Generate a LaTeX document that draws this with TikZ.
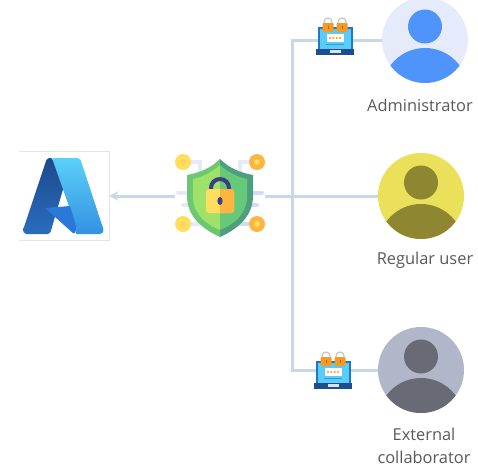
\documentclass[tikz,border=0pt]{standalone}
\usepackage{fontspec}
\setmainfont{Open Sans}
\usetikzlibrary{positioning,arrows,calc}

\definecolor{wire}{HTML}{C5D8EC}
\definecolor{trace}{HTML}{E4EAFA}
\definecolor{tracedark}{HTML}{D3DCF6}
\definecolor{captiontext}{HTML}{595959}
\definecolor{adminback}{HTML}{E6EBFB}
\definecolor{adminfront}{HTML}{4F94FA}
\definecolor{regularback}{HTML}{EBE05A}
\definecolor{regularfront}{HTML}{8E8630}
\definecolor{externalback}{HTML}{B1B6C8}
\definecolor{externalfront}{HTML}{686A75}
\definecolor{logodarktop}{HTML}{1D4A8C}
\definecolor{logodarkbottom}{HTML}{2A6DBE}
\definecolor{logolighttop}{HTML}{5BD0F8}
\definecolor{logolightbottom}{HTML}{3391E2}
\definecolor{logomiddle}{HTML}{2A78D8}
\definecolor{shieldleft}{HTML}{6CC870}
\definecolor{shieldright}{HTML}{4F9E7E}
\definecolor{innerleft}{HTML}{9FE26A}
\definecolor{innerright}{HTML}{66C97A}
\definecolor{lockleft}{HTML}{FFDD5E}
\definecolor{lockright}{HTML}{FDB440}
\definecolor{shackle}{HTML}{3A3F85}
\definecolor{screenframe}{HTML}{1F77C5}
\definecolor{screenfill}{HTML}{59CCFB}
\definecolor{laptopbase}{HTML}{1F4E8C}
\definecolor{padlock}{HTML}{F59A23}

\begin{document}
\begin{tikzpicture}[x=1pt, y=-1pt, >=stealth,
    box/.style={inner sep=0pt, minimum width=#1},
    avatar/.style n args={2}{circle, inner sep=0pt, minimum size=86pt, fill=#1,
      path picture={
        \fill[#2] ([yshift=13.5pt]path picture bounding box.center) circle (17pt);
        \fill[#2] ([yshift=-51pt]path picture bounding box.center) circle (43pt);
      }},
    caption/.style={text=captiontext, font=\fontsize{16.4}{23}\selectfont, align=center, inner sep=0pt},
    link/.style={draw=wire, line width=3pt}]

  \useasboundingbox (0,0) rectangle (478,472);

  \node[box=90pt, minimum height=89pt] (azure) at (64,196) {};
  \node[box=89pt, minimum height=80pt] (shield) at (220,196) {};
  \node[box=38pt, minimum height=26pt] (lockA) at (335,40) {};
  \node[box=38pt, minimum height=26pt] (lockB) at (333,370) {};
  \coordinate (hub) at (292,196);

  \node[avatar={adminback}{adminfront}] (admin) at (425,40) {};
  \node[avatar={regularback}{regularfront}] (regular) at (421,196) {};
  \node[avatar={externalback}{externalfront}] (external) at (421,370) {};

  \node[caption, below=16pt of admin, xshift=-5pt] (adminlabel) {Administrator};
  \node[caption, below=13pt of regular, xshift=4pt] (regularlabel) {Regular user};
  \node[caption, below=15pt of external, xshift=3pt] (externallabel) {External\\collaborator};

  \draw[link] (shield.east) -- (regular.west);
  \draw[link] (hub) |- (lockA.center);
  \draw[link] (hub) |- (lockB.center);
  \draw[link] (lockA.center) -- (admin.west);
  \draw[link] (lockB.center) -- (external.west);
  \draw[link, ->] (shield.west) -- (azure.east);

  % frame of the logo, open on the left
  \draw[black!10, line width=.8pt] (azure.north west) -- (azure.north east) -- (azure.south east) -- (azure.south west);

  % logo
  \shade[top color=logodarktop, bottom color=logodarkbottom, rounded corners=2pt]
    (47,158) -- (53,158) -- (64,186) -- (50,234) -- (24,234) -- (23,230) -- cycle;
  \shade[top color=logolighttop, bottom color=logolightbottom, rounded corners=2pt]
    (52,158) -- (80,158) -- (104,231) -- (102,234) -- (75,234) -- (77,229) -- cycle;
  \fill[logomiddle, rounded corners=1pt] (45,208) -- (70,206) -- (77,229) -- (74,234) -- cycle;

  % shield
  \begin{scope}[shift={(shield.center)}]
    \draw[trace, line width=4pt, line cap=round] (-37,-34) -- (-20,-34) -- (-20,-24);
    \draw[trace, line width=4pt, line cap=round] (37,-34) -- (20,-34) -- (20,-24);
    \draw[trace, line width=4pt, line cap=round] (-37,28) -- (-15,28);
    \draw[tracedark, line width=4pt, line cap=round] (37,28) -- (15,28);
    \draw[trace, line width=4pt, line cap=round] (-42,-3) -- (-28,-3) (-37,9) -- (-24,9);
    \draw[tracedark, line width=4pt, line cap=round] (28,-3) -- (42,-3) (28,9) -- (37,9);
    \foreach \sx/\outer/\inner in {1/shieldleft/innerleft,-1/shieldright/innerright} {
      \begin{scope}[xscale=\sx]
        \fill[\outer] (0,-37) .. controls (-10,-27) and (-22,-23) .. (-33,-21) -- (-33,0)
          .. controls (-33,20) and (-18,33) .. (0,41) -- cycle;
        \fill[\inner] (0,-31) .. controls (-9,-23) and (-18,-19) .. (-27,-17) -- (-27,1)
          .. controls (-27,17) and (-15,28) .. (0,34) -- cycle;
      \end{scope}
    }
    \draw[shackle, line width=4pt] (-9,-6) -- (-9,-8) arc (180:0:9pt) -- (9,-6);
    \fill[lockleft, rounded corners=3pt] (-14,-7) rectangle (14,17);
    \begin{scope}
      \clip (0,-7) rectangle (14,17);
      \fill[lockright, rounded corners=3pt] (-14,-7) rectangle (14,17);
    \end{scope}
    \fill[shackle] (0,5) ellipse (2.6pt and 4pt);
    \foreach \cx/\cy/\ring/\dot in {-37/-34/lockleft/lockleft!80!lockright,
        37/-34/lockright/lockleft,-37/28/lockleft/lockleft!80!lockright,37/28/lockright/lockleft} {
      \fill[\ring] (\cx,\cy) circle (8pt);
      \fill[\dot] (\cx,\cy) circle (3pt);
    }
  \end{scope}

  % laptops with padlocks
  \foreach \n/\dy in {lockA/0,lockB/4} {
    \begin{scope}[shift={(\n.center)}, shift={(0,\dy)}]
      \fill[screenframe] (-17.5,-13) rectangle (17.5,9);
      \fill[screenfill] (-15.5,-11) rectangle (15.5,9);
      \fill[laptopbase] (-19,9) rectangle (19,15);
      \fill[black!12] (-5.5,10) rectangle (5.5,12.5);
      \fill[white] (-8.5,-6) rectangle (8.5,2);
      \foreach \sx in {-5,-1.7,1.7,5} {
        \fill[padlock] (\sx,-2) circle (1.1pt);
      }
      \draw[screenframe!60!screenfill, line width=.7pt] (-9,4) -- (9,4);
      \foreach \sx in {-7,7} {
        \draw[black!22, line width=1.3pt] (\sx-4,-15) -- (\sx-4,-18) arc (180:0:4pt) -- (\sx+4,-15);
        \fill[padlock, rounded corners=1pt] (\sx-5.5,-17) rectangle (\sx+5.5,-8);
        \fill[padlock!70!black] (\sx-.4,-14) rectangle (\sx+.4,-11);
      }
    \end{scope}
  }
\end{tikzpicture}
\end{document}
